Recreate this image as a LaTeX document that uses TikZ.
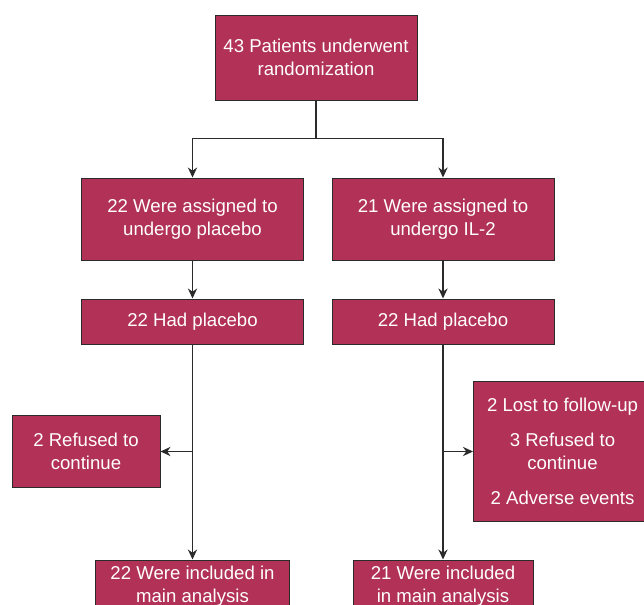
\documentclass[tikz,border=0pt]{standalone}
\usepackage{fontspec}
\setmainfont{Liberation Sans}
\usetikzlibrary{positioning, arrows.meta}
\definecolor{boxred}{HTML}{B13157}
\definecolor{linegray}{HTML}{2B2B2B}

\begin{document}
\begin{tikzpicture}[x=1pt, y=1pt,
    box/.style={draw=linegray, line width=0.5pt, fill=boxred, text=white, align=center,
        font=\fontsize{9.3}{11.25}\selectfont, inner sep=0pt},
    flow/.style={draw=linegray, line width=0.6pt},
    >={Stealth[length=5pt, width=4.6pt]}]
    \clip (0,0) rectangle (322,-302.5);

    % cajas
    \node [box, minimum width=101pt, minimum height=42.5pt] (rand) at (158,-28.75) {43 Patients underwent\\randomization};
    \node [box, minimum width=111pt, minimum height=41pt] (assignP) [below=38.5pt of rand, xshift=-61.75pt] {22 Were assigned to\\undergo placebo};
    \node [box, minimum width=111pt, minimum height=41pt] (assignI) [below=38.5pt of rand, xshift=63.5pt] {21 Were assigned to\\undergo IL-2};
    \node [box, minimum width=111pt, minimum height=22.5pt] (hadP) [below=19pt of assignP] {22 Had placebo};
    \node [box, minimum width=111pt, minimum height=22.5pt] (hadI) [below=19pt of assignI] {22 Had placebo};
    \coordinate [below=53.5pt of hadP.south] (splitP);
    \coordinate [below=53.5pt of hadI.south] (splitI);
    \node [box, minimum width=74pt, minimum height=36pt] (refP) [left=16pt of splitP] {2 Refused to\\continue};
    \node [box, minimum width=89pt, minimum height=70pt] (refI) [right=15pt of splitI] {2 Lost to follow-up\\[6.5pt]3 Refused to\\continue\\[6.5pt]2 Adverse events};
    \node [box, minimum width=97pt, minimum height=26pt] (inclP) [below=107.5pt of hadP] {22 Were included in\\main analysis};
    \node [box, minimum width=90pt, minimum height=26pt] (inclI) [below=107.5pt of hadI] {21 Were included\\in main analysis};

    % flechas
    \coordinate [below=19pt of rand.south] (fork);
    \draw [flow] (rand) -- (fork);
    \draw [flow, ->] (fork) -| (assignP);
    \draw [flow, ->] (fork) -| (assignI);
    \draw [flow, ->] (assignP) -- (hadP);
    \draw [flow, ->] (assignI) -- (hadI);
    \draw [flow, ->] (hadP) -- (inclP);
    \draw [flow, ->] (hadI) -- (inclI);
    \draw [flow, ->] (splitP) -- (refP);
    \draw [flow, ->] (splitI) -- (refI);
\end{tikzpicture}
\end{document}
